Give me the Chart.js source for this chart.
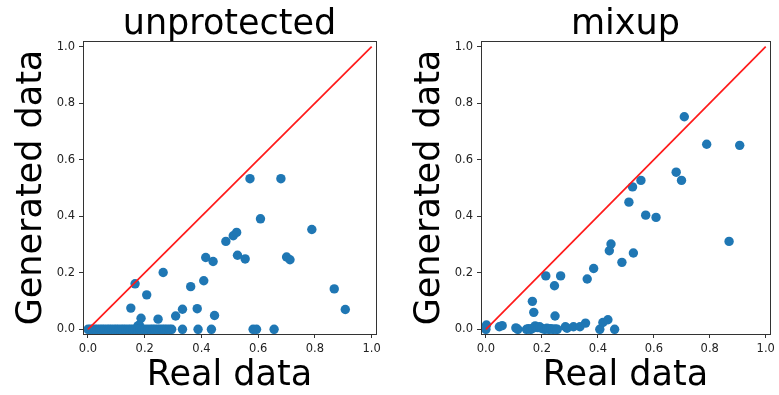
<!DOCTYPE html>
<html>
<head>
<meta charset="utf-8">
<script src="https://cdn.jsdelivr.net/npm/chart.js@4.4.1/dist/chart.umd.min.js"></script>
<style>
  html, body { margin: 0; padding: 0; background: #fff; }
  #wrap { position: relative; width: 779px; height: 395px; }
  #c1 { position: absolute; left: 0; top: 0; }
  #c2 { position: absolute; left: 398px; top: 0; }
</style>
</head>
<body>
<div id="wrap">
  <canvas id="c1" width="389" height="395"></canvas>
  <canvas id="c2" width="381" height="395"></canvas>
</div>
<script>
// ---- data ----
const titles = ["unprotected", "mixup"];
const xLabel = "Real data";
const yLabel = "Generated data";
const xTicks = [0.0, 0.2, 0.4, 0.6, 0.8, 1.0];
const yTicks = [0.0, 0.2, 0.4, 0.6, 0.8, 1.0];
const diagonalX = [0, 1];
const diagonalY = [0, 1];

const unprotectedReal = [0.571, 0.680, 0.608, 0.789, 0.486, 0.512, 0.524, 0.527, 0.554, 0.415, 0.441, 0.700, 0.712,
  0.265, 0.408, 0.362, 0.166, 0.207, 0.868, 0.907, 0.151, 0.333, 0.385, 0.309, 0.446, 0.187, 0.247, 0.176, 0.181,
  0.0, 0.008, 0.016, 0.025, 0.033, 0.042, 0.05, 0.058, 0.067, 0.075, 0.083, 0.092, 0.10, 0.108, 0.117, 0.125,
  0.133, 0.142, 0.15, 0.158, 0.167, 0.175, 0.183, 0.192, 0.2, 0.21, 0.22, 0.228, 0.236, 0.245, 0.253, 0.262,
  0.27, 0.278, 0.287, 0.295, 0.333, 0.388, 0.435, 0.582, 0.594, 0.656];
const unprotectedGen = [0.533, 0.533, 0.391, 0.353, 0.311, 0.331, 0.343, 0.262, 0.249, 0.254, 0.240, 0.256, 0.246,
  0.201, 0.172, 0.151, 0.161, 0.122, 0.143, 0.070, 0.075, 0.071, 0.073, 0.047, 0.049, 0.039, 0.036, 0.012, 0.015,
  0, 0, 0, 0, 0, 0, 0, 0, 0, 0, 0, 0, 0, 0, 0, 0,
  0, 0, 0, 0, 0, 0, 0, 0, 0, 0, 0, 0, 0, 0, 0, 0,
  0, 0, 0, 0, 0, 0, 0, 0, 0, 0];

const mixupReal = [0.709, 0.789, 0.907, 0.680, 0.699, 0.554, 0.524, 0.511, 0.571, 0.608, 0.869, 0.447, 0.441, 0.527,
  0.486, 0.385, 0.362, 0.214, 0.267, 0.245, 0.166, 0.171, 0.247, 0.002, 0.0, 0.048, 0.058, 0.107, 0.114, 0.145,
  0.152, 0.160, 0.168, 0.176, 0.185, 0.192, 0.20, 0.21, 0.218, 0.225, 0.232, 0.24, 0.248, 0.255, 0.284, 0.29,
  0.313, 0.336, 0.356, 0.407, 0.418, 0.436, 0.46];
const mixupGen = [0.752, 0.655, 0.651, 0.556, 0.527, 0.527, 0.504, 0.450, 0.404, 0.396, 0.311, 0.302, 0.278, 0.270,
  0.237, 0.215, 0.178, 0.189, 0.189, 0.154, 0.099, 0.060, 0.047, 0.015, 0.0, 0.009, 0.013, 0.005, 0.0, 0.0,
  0.002, 0.0, 0.004, 0.012, 0.006, 0.009, 0.003, 0.0, 0.004, 0.0, 0.002, 0.0, 0.001, 0.0, 0.009, 0.004,
  0.009, 0.009, 0.022, 0.0, 0.024, 0.034, 0.0];

// ---- helpers ----
const FONT = "'DejaVu Sans', sans-serif";
const toPts = (xs, ys) => xs.map((x, i) => ({ x: x, y: ys[i] }));

const framePlugin = {
  id: 'frame',
  afterDraw(chart) {
    const a = chart.chartArea, ctx = chart.ctx;
    ctx.save();
    ctx.strokeStyle = '#333';
    ctx.lineWidth = 1;
    ctx.strokeRect(Math.round(a.left) + 0.5, Math.round(a.top) + 0.5,
      Math.round(a.right - a.left), Math.round(a.bottom - a.top));
    ctx.restore();
  }
};

function makeChart(id, title, xs, ys, padRight) {
  return new Chart(document.getElementById(id), {
    type: 'scatter',
    data: {
      datasets: [
        {
          type: 'line',
          data: toPts(diagonalX, diagonalY),
          borderColor: '#ff1a1a',
          borderWidth: 1.7,
          pointRadius: 0,
          fill: false,
          tension: 0
        },
        {
          data: toPts(xs, ys),
          backgroundColor: '#1f77b4',
          borderWidth: 0,
          pointRadius: 4.7,
          pointHoverRadius: 4.7
        }
      ]
    },
    options: {
      responsive: false,
      animation: false,
      events: [],
      layout: { padding: { left: 0, right: padRight, top: 0, bottom: 0 } },
      plugins: {
        legend: { display: false },
        tooltip: { enabled: false },
        title: {
          display: true,
          text: title,
          fullSize: false,
          color: '#000',
          font: { family: FONT, size: 35, weight: 'normal', lineHeight: '33px' },
          padding: { top: 8, bottom: 0 }
        }
      },
      scales: {
        x: {
          type: 'linear',
          min: -0.0176,
          max: 1.0152,
          afterFit(s) { s.height = 61; },
          afterBuildTicks(s) { s.ticks = xTicks.map(v => ({ value: v })); },
          grid: { color: 'rgba(0,0,0,0)', tickColor: '#333', tickLength: 4, drawOnChartArea: false },
          border: { display: true, color: '#333', width: 1 },
          ticks: {
            color: '#222', padding: 4,
            font: { family: FONT, size: 11.5 },
            callback: v => Number(v).toFixed(1),
            maxRotation: 0
          },
          title: {
            display: true, text: xLabel, color: '#000',
            font: { family: FONT, size: 35, lineHeight: 1 },
            padding: { top: 0, bottom: 2 }
          }
        },
        y: {
          type: 'linear',
          min: -0.0166,
          max: 1.0202,
          afterFit(s) { s.width = 83; },
          afterBuildTicks(s) { s.ticks = yTicks.map(v => ({ value: v })); },
          grid: { color: 'rgba(0,0,0,0)', tickColor: '#333', tickLength: 4, drawOnChartArea: false },
          border: { display: true, color: '#333', width: 1 },
          ticks: {
            color: '#222', padding: 4,
            font: { family: FONT, size: 11.5 },
            callback: v => Number(v).toFixed(1)
          },
          title: {
            display: true, text: yLabel, color: '#000',
            font: { family: FONT, size: 35, lineHeight: 1 },
            padding: { top: 14.5, bottom: 0 }
          }
        }
      }
    },
    plugins: [framePlugin]
  });
}

makeChart('c1', titles[0], unprotectedReal, unprotectedGen, 13);
makeChart('c2', titles[1], mixupReal, mixupGen, 5);
</script>
</body>
</html>
